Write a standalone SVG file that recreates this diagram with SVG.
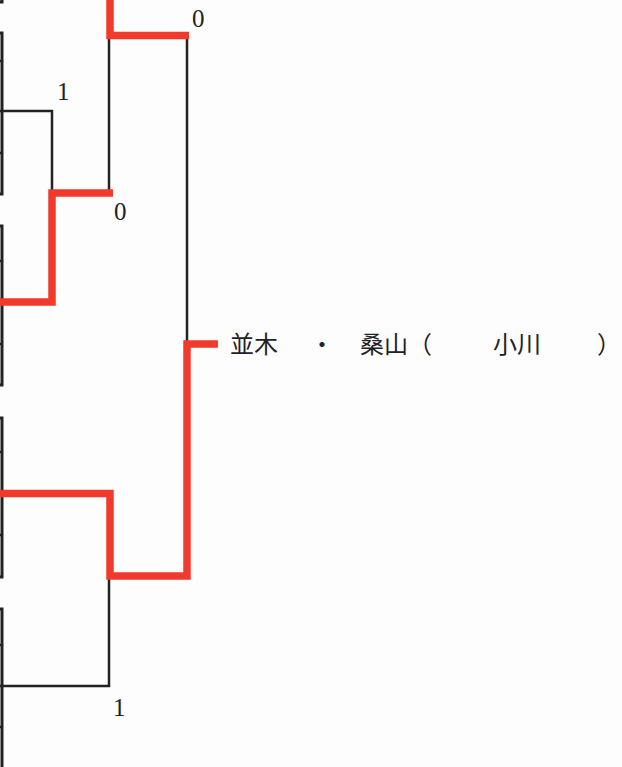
<svg xmlns="http://www.w3.org/2000/svg" width="622" height="767" viewBox="0 0 622 767">
<style>
.box{fill:none;stroke:#222;stroke-width:3}
.tick{stroke:#222;stroke-width:2.5}
.blk{fill:none;stroke:#222;stroke-width:2.5}
.red{fill:none;stroke:#f23a2c;stroke-width:7.5;stroke-linejoin:miter;stroke-linecap:butt}
.score{font-family:"Liberation Serif",serif;font-size:25px;fill:#222}
.name{font-family:"Noto Sans CJK JP","Noto Sans",sans-serif;font-size:24px;fill:#222}
</style>
<rect width="622" height="767" fill="#fefdfd"/>
<g id="entry0"><rect class="box" x="-100" y="-160" width="102" height="162"/></g>
<g id="entry1"><rect class="box" x="-100" y="33" width="102" height="161"/><line class="tick" x1="-5" y1="61" x2="3" y2="61"/><line class="tick" x1="-5" y1="153" x2="3" y2="153"/></g>
<g id="entry2"><rect class="box" x="-100" y="226" width="102" height="159"/><line class="tick" x1="-5" y1="261" x2="3" y2="261"/><line class="tick" x1="-5" y1="344" x2="3" y2="344"/></g>
<g id="entry3"><rect class="box" x="-100" y="418" width="102" height="159"/><line class="tick" x1="-5" y1="452" x2="3" y2="452"/><line class="tick" x1="-5" y1="535" x2="3" y2="535"/></g>
<g id="entry4"><rect class="box" x="-100" y="609" width="102" height="170"/><line class="tick" x1="-5" y1="645" x2="3" y2="645"/><line class="tick" x1="-5" y1="727" x2="3" y2="727"/></g>
<g id="connectors">
<polyline class="blk" points="0,111 52,111 52,193"/>
<polyline class="blk" points="109,193 109,36"/>
<polyline class="blk" points="187,36 187,344"/>
<polyline class="blk" points="0,686 109,686 109,576"/>
<polyline class="red" points="0,302 52,302 52,193 113,193"/>
<polyline class="red" points="110,0 110,35.5 189,35.5"/>
<polyline class="red" points="0,493.5 110,493.5 110,576 187,576 187,344 218,344"/>
</g>
<g id="scores">
<text class="score" x="192" y="27">0</text>
<text class="score" x="57" y="100">1</text>
<text class="score" x="114" y="220">0</text>
<text class="score" x="113" y="716">1</text>
</g>
<g id="winner">
<text class="name" y="353"><tspan x="230">並木</tspan><tspan x="310">・</tspan><tspan x="360">桑山（</tspan><tspan x="493">小川</tspan><tspan x="597">）</tspan></text>
</g>
</svg>
